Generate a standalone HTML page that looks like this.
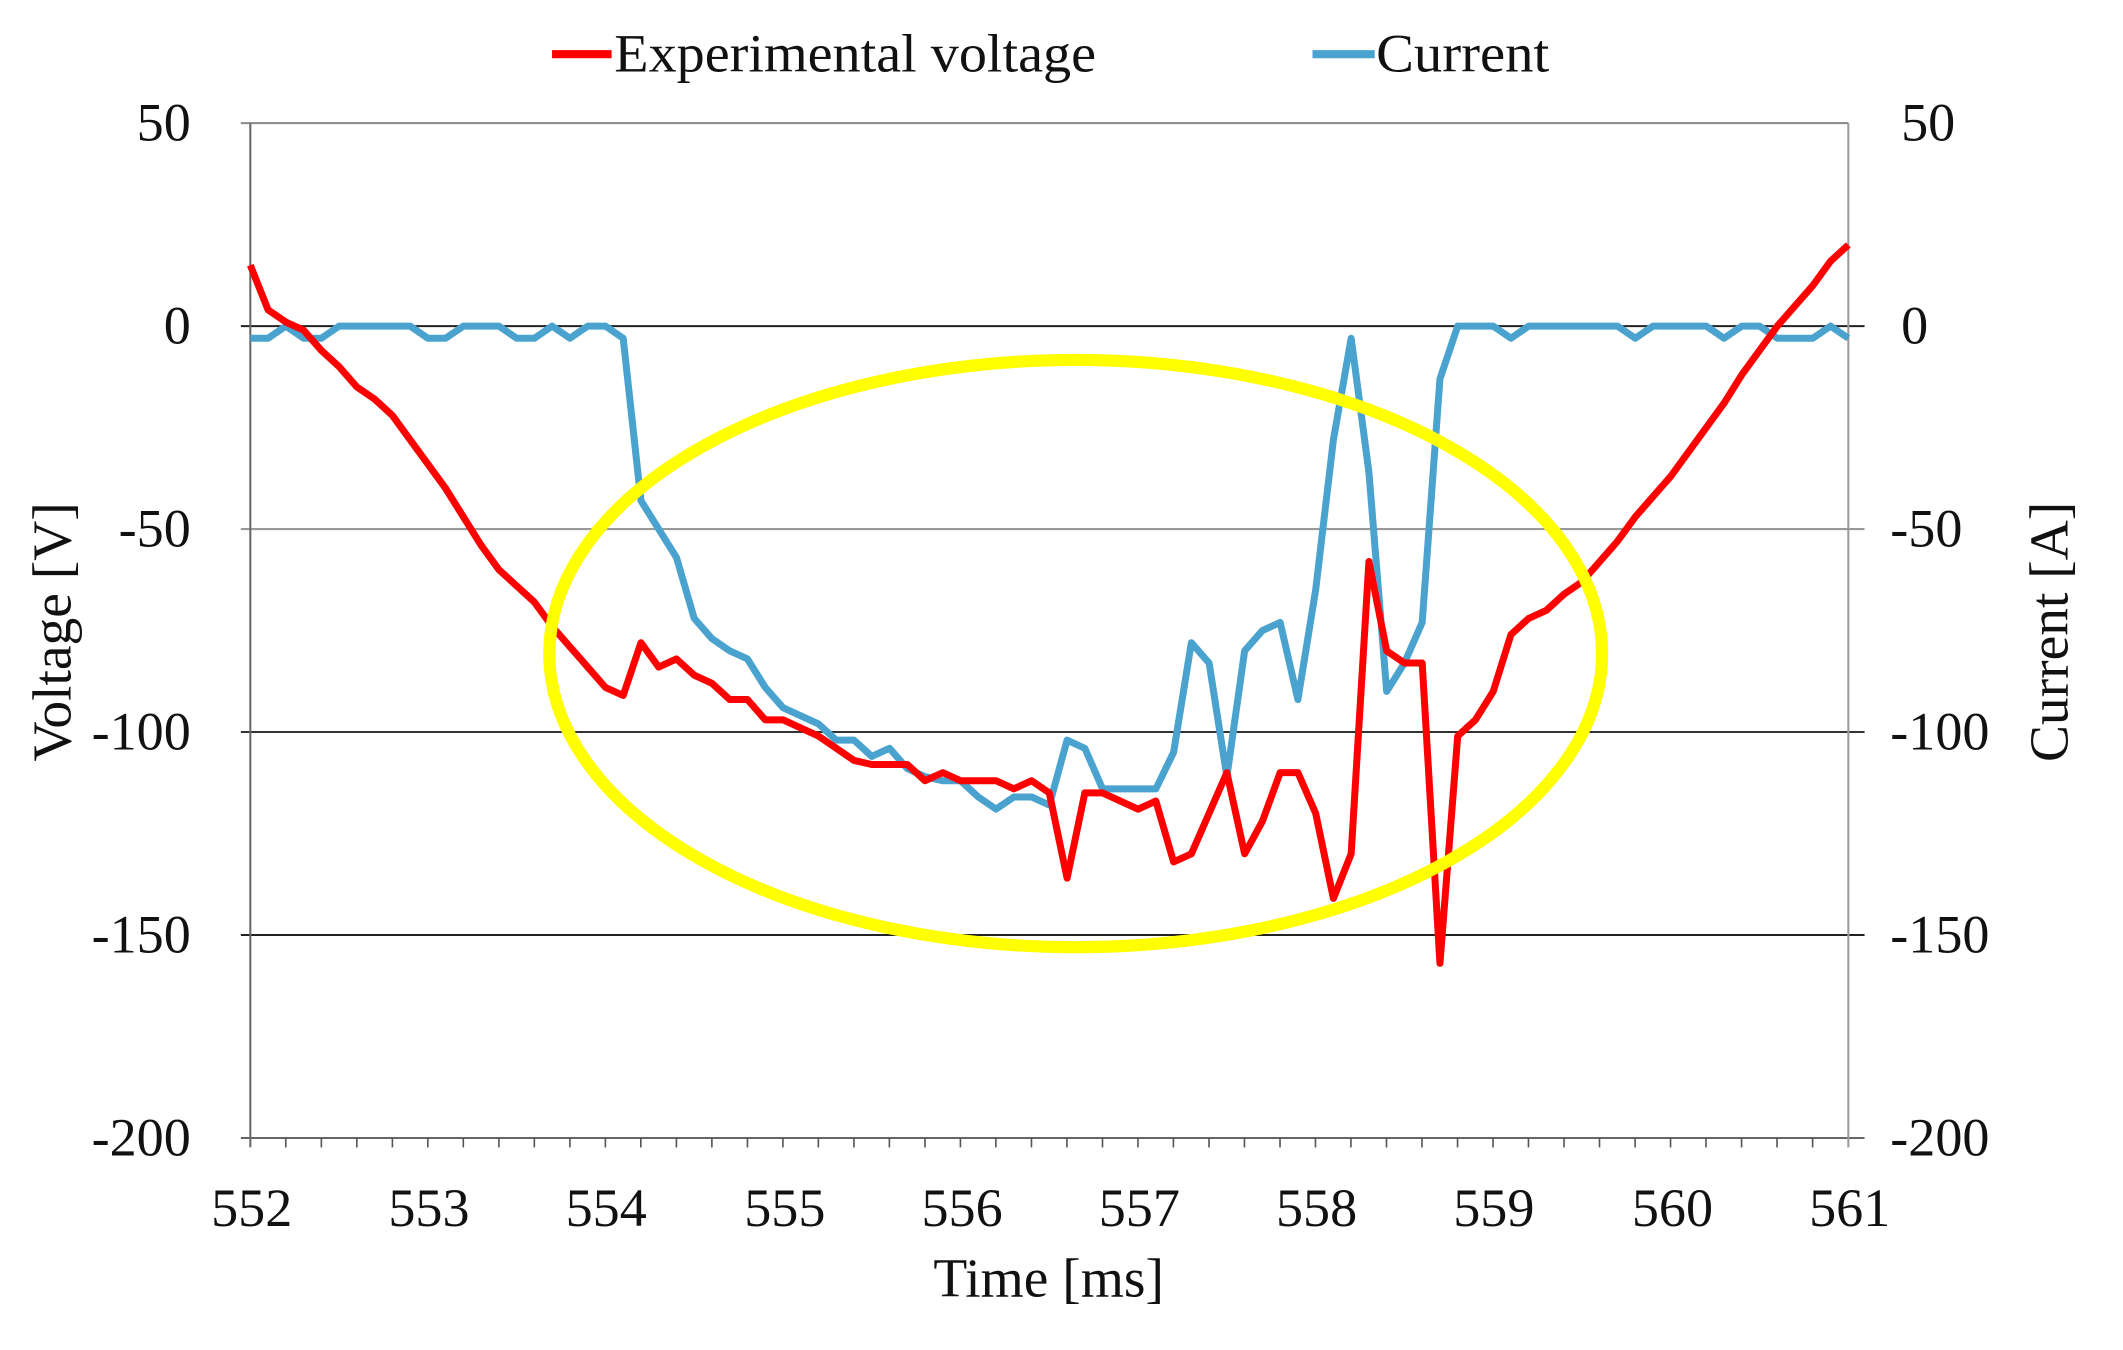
<!DOCTYPE html>
<html><head><meta charset="utf-8"><style>
html,body{margin:0;padding:0;background:#fff;}
svg{display:block;}
text{font-family:"Liberation Serif",serif;fill:#111;}
</style></head><body>
<svg width="2123" height="1350" viewBox="0 0 1569 997.7" xmlns="http://www.w3.org/2000/svg">
<rect width="1569" height="997.7" fill="#fff"/>
<line x1="178" y1="91" x2="1366" y2="91" stroke="#888" stroke-width="1.5"/>
<line x1="178" y1="241" x2="1378" y2="241" stroke="#222" stroke-width="1.5"/>
<line x1="178" y1="391" x2="1378" y2="391" stroke="#999" stroke-width="1.5"/>
<line x1="178" y1="541" x2="1378" y2="541" stroke="#333" stroke-width="1.5"/>
<line x1="178" y1="691" x2="1378" y2="691" stroke="#222" stroke-width="1.5"/>
<line x1="178" y1="841" x2="1378" y2="841" stroke="#666" stroke-width="1.5"/>
<line x1="185" y1="91" x2="185" y2="848" stroke="#666" stroke-width="1.5"/>
<line x1="1366" y1="91" x2="1366" y2="848" stroke="#999" stroke-width="1.5"/>
<g stroke="#555" stroke-width="1.2">
<line x1="211.2" y1="841" x2="211.2" y2="848"/><line x1="237.5" y1="841" x2="237.5" y2="848"/><line x1="263.7" y1="841" x2="263.7" y2="848"/><line x1="290" y1="841" x2="290" y2="848"/><line x1="316.2" y1="841" x2="316.2" y2="848"/>
<line x1="342.4" y1="841" x2="342.4" y2="848"/><line x1="368.7" y1="841" x2="368.7" y2="848"/><line x1="394.9" y1="841" x2="394.9" y2="848"/><line x1="421.2" y1="841" x2="421.2" y2="848"/><line x1="447.4" y1="841" x2="447.4" y2="848"/>
<line x1="473.6" y1="841" x2="473.6" y2="848"/><line x1="499.9" y1="841" x2="499.9" y2="848"/><line x1="526.1" y1="841" x2="526.1" y2="848"/><line x1="552.4" y1="841" x2="552.4" y2="848"/><line x1="578.6" y1="841" x2="578.6" y2="848"/>
<line x1="604.8" y1="841" x2="604.8" y2="848"/><line x1="631.1" y1="841" x2="631.1" y2="848"/><line x1="657.3" y1="841" x2="657.3" y2="848"/><line x1="683.6" y1="841" x2="683.6" y2="848"/><line x1="709.8" y1="841" x2="709.8" y2="848"/>
<line x1="736" y1="841" x2="736" y2="848"/><line x1="762.3" y1="841" x2="762.3" y2="848"/><line x1="788.5" y1="841" x2="788.5" y2="848"/><line x1="814.8" y1="841" x2="814.8" y2="848"/><line x1="841" y1="841" x2="841" y2="848"/>
<line x1="867.2" y1="841" x2="867.2" y2="848"/><line x1="893.5" y1="841" x2="893.5" y2="848"/><line x1="919.7" y1="841" x2="919.7" y2="848"/><line x1="946" y1="841" x2="946" y2="848"/><line x1="972.2" y1="841" x2="972.2" y2="848"/>
<line x1="998.4" y1="841" x2="998.4" y2="848"/><line x1="1024.7" y1="841" x2="1024.7" y2="848"/><line x1="1050.9" y1="841" x2="1050.9" y2="848"/><line x1="1077.2" y1="841" x2="1077.2" y2="848"/><line x1="1103.4" y1="841" x2="1103.4" y2="848"/>
<line x1="1129.6" y1="841" x2="1129.6" y2="848"/><line x1="1155.9" y1="841" x2="1155.9" y2="848"/><line x1="1182.1" y1="841" x2="1182.1" y2="848"/><line x1="1208.4" y1="841" x2="1208.4" y2="848"/><line x1="1234.6" y1="841" x2="1234.6" y2="848"/>
<line x1="1260.8" y1="841" x2="1260.8" y2="848"/><line x1="1287.1" y1="841" x2="1287.1" y2="848"/><line x1="1313.3" y1="841" x2="1313.3" y2="848"/><line x1="1339.6" y1="841" x2="1339.6" y2="848"/>
</g>
<g transform="translate(185,241) scale(13.1222,-3)" fill="none" stroke-linejoin="round">
<polyline vector-effect="non-scaling-stroke" stroke="#4aa3cf" stroke-width="7" points="0,-3 1,-3 2,0 3,-3 4,-3 5,0 6,0 7,0 8,0 9,0 10,-3 11,-3 12,0 13,0 14,0 15,-3 16,-3 17,0 18,-3 19,0 20,0 21,-3 22,-43 23,-50 24,-57 25,-72 26,-77 27,-80 28,-82 29,-89 30,-94 31,-96 32,-98 33,-102 34,-102 35,-106 36,-104 37,-109 38,-111 39,-112 40,-112 41,-116 42,-119 43,-116 44,-116 45,-118 46,-102 47,-104 48,-114 49,-114 50,-114 51,-114 52,-105 53,-78 54,-83 55,-111 56,-80 57,-75 58,-73 59,-92 60,-65 61,-28 62,-3 63,-36 64,-90 65,-83 66,-73 67,-13 68,0 69,0 70,0 71,-3 72,0 73,0 74,0 75,0 76,0 77,0 78,-3 79,0 80,0 81,0 82,0 83,-3 84,0 85,0 86,-3 87,-3 88,-3 89,0 90,-3"/>
<polyline vector-effect="non-scaling-stroke" stroke="#ff0000" stroke-width="7" points="0,15 1,4 2,1 3,-1 4,-6 5,-10 6,-15 7,-18 8,-22 9,-28 10,-34 11,-40 12,-47 13,-54 14,-60 15,-64 16,-68 17,-74 18,-79 19,-84 20,-89 21,-91 22,-78 23,-84 24,-82 25,-86 26,-88 27,-92 28,-92 29,-97 30,-97 31,-99 32,-101 33,-104 34,-107 35,-108 36,-108 37,-108 38,-112 39,-110 40,-112 41,-112 42,-112 43,-114 44,-112 45,-115 46,-136 47,-115 48,-115 49,-117 50,-119 51,-117 52,-132 53,-130 54,-120 55,-110 56,-130 57,-122 58,-110 59,-110 60,-120 61,-141 62,-130 63,-58 64,-80 65,-83 66,-83 67,-157 68,-101 69,-97 70,-90 71,-76 72,-72 73,-70 74,-66 75,-63 76,-58 77,-53 78,-47 79,-42 80,-37 81,-31 82,-25 83,-19 84,-12 85,-6 86,0 87,5 88,10 89,16 90,20"/>
</g>
<ellipse cx="795" cy="483" rx="389" ry="217" fill="none" stroke="#ffff00" stroke-width="9"/>
<g font-size="40" text-anchor="end">
<text x="141" y="104">50</text>
<text x="141" y="254">0</text>
<text x="141" y="404">-50</text>
<text x="141" y="554">-100</text>
<text x="141" y="704">-150</text>
<text x="141" y="854">-200</text>
</g>
<g font-size="40" text-anchor="start">
<text x="1405" y="104">50</text>
<text x="1405" y="254">0</text>
<text x="1397" y="404">-50</text>
<text x="1397" y="554">-100</text>
<text x="1397" y="704">-150</text>
<text x="1397" y="854">-200</text>
</g>
<g font-size="40" text-anchor="middle">
<text x="186" y="906">552</text><text x="317" y="906">553</text><text x="448" y="906">554</text><text x="580" y="906">555</text><text x="711" y="906">556</text><text x="842" y="906">557</text><text x="973" y="906">558</text><text x="1104" y="906">559</text><text x="1236" y="906">560</text><text x="1367" y="906">561</text>
</g>
<text x="775" y="958" font-size="41" text-anchor="middle">Time [ms]</text>
<text transform="translate(52,467) rotate(-90)" font-size="41" text-anchor="middle">Voltage [V]</text>
<text transform="translate(1528,467) rotate(-90)" font-size="41" text-anchor="middle">Current [A]</text>
<line x1="408" y1="40" x2="452" y2="40" stroke="#ff0000" stroke-width="6"/>
<text x="454" y="53" font-size="40" textLength="356" lengthAdjust="spacingAndGlyphs">Experimental voltage</text>
<line x1="970" y1="40" x2="1016" y2="40" stroke="#4aa3cf" stroke-width="6"/>
<text x="1017" y="53" font-size="40" textLength="128" lengthAdjust="spacingAndGlyphs">Current</text>
</svg>
</body></html>
